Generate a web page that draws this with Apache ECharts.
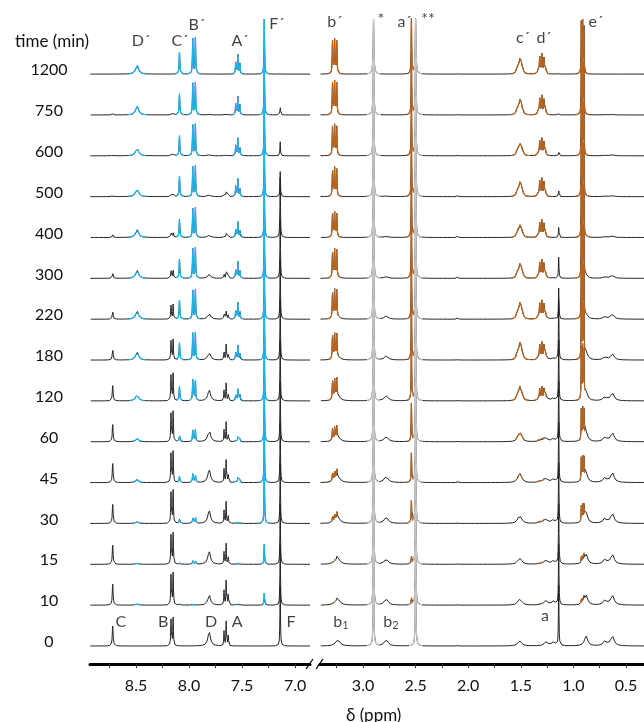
<!DOCTYPE html>
<html>
<head>
<meta charset="utf-8">
<style>
  html, body { margin: 0; padding: 0; background: #fff; }
  #chart { width: 644px; height: 722px; }
</style>
<script src="https://cdn.jsdelivr.net/npm/echarts@6/dist/echarts.min.js"></script>
</head>
<body>
<div id="chart"></div>
<script>
// rows, bottom to top
const times = [0, 10, 15, 30, 45, 60, 120, 180, 220, 300, 400, 500, 600, 750, 1200];
const labelsLeftAxis = [7.0, 7.5, 8.0, 8.5];
const ticksLeftAxis = [7.0, 7.25, 7.5, 7.75, 8.0, 8.25, 8.5, 8.75];
const labelsRightAxis = [0.5, 1.0, 1.5, 2.0, 2.5, 3.0];
const ticksRightAxis = [0.5, 0.75, 1.0, 1.25, 1.5, 1.75, 2.0, 2.25, 2.5, 2.75, 3.0, 3.25];

// aromatic region, starting material (shift ppm, relative line intensity, peak height per row)
const posC = [8.72];
const hC = [21, 22, 20, 20, 20, 18, 16, 12, 8.7, 5.7, 3.3, 2.3, 1.7, 1, 0];
const posB = [8.17, 8.15];
const relB = [0.93, 1];
const hB = [29, 33, 32, 34, 32, 31, 28, 21, 15, 10, 5.7, 4, 2.5, 2, 0];
const posD = [7.81];
const hD = [14, 10, 13, 13, 13, 12, 11, 8, 6, 4, 2.3, 1.7, 1, 0.5, 0];
const posA = [7.67, 7.65, 7.63];
const relA = [0.6, 1, 0.42];
const hA = [25, 25, 21, 22, 23, 20, 18, 16, 10, 8, 4, 4.7, 1.5, 0.5, 0];
const posF = [7.14];
const hF = [60, 60, 60, 60, 60, 60, 60, 60, 60, 60, 60, 25, 14, 9, 1];

// aromatic region, product
const posDp = [8.49];
const hDp = [0, 1, 1, 1.5, 3, 3, 6, 8, 8, 8, 8, 8, 8, 9, 9];
const posCp = [8.09];
const hCp = [0, 1, 2, 4, 6, 7, 14, 17, 19, 19, 18, 20, 20, 21, 22];
const posBp = [7.965, 7.94];
const relBp = [0.97, 1];
const hBp = [0, 1.5, 3.5, 7, 9, 12, 22, 28, 30, 31, 30, 31, 32, 33, 37];
const posAp = [7.56, 7.54, 7.52];
const relAp = [0.6, 1, 0.55];
const hAp = [0, 1, 1.5, 3, 6, 6, 12, 15, 17, 17, 16, 18, 18, 19, 20];
const posFp = [7.29];
const hFp = [0, 12, 20, 60, 60, 60, 60, 60, 60, 60, 60, 60, 60, 60, 55];

// aliphatic region, starting material
const posb1 = [3.24];
const hb1 = [6, 6, 6, 6, 6, 5, 5, 3, 2, 1, 0, 0, 0, 0, 0];
const posb2 = [2.78];
const hb2 = [6, 6, 5, 6, 6, 5, 5, 4, 3, 1.5, 1, 0.5, 0, 0, 0];
const posMinor = [2.10];
const hMinor = [1, 1, 1, 1, 1, 1, 1, 2, 2, 2, 2, 1.5, 1, 0.5, 0.5];
const posc = [1.51];
const hc = [5, 5, 5, 5, 5, 4, 3, 2, 1, 0, 0, 0, 0, 0, 0];
const posd = [1.26, 1.19];
const reld = [1, 0.93];
const hd = [4.3, 4.3, 4, 4, 4, 3.5, 3, 2, 1, 0.5, 0, 0, 0, 0, 0];
const posa = [1.14];
const ha = [60, 60, 60, 60, 60, 60, 60, 60, 31, 21, 10, 7, 4, 2, 1];
const pose = [0.88];
const he = [10, 10, 10, 11, 10, 10, 9, 8, 5, 3, 1, 0.5, 0, 0, 0];
const posg = [0.70, 0.63];
const relg = [0.48, 1];
const hg = [10, 10, 10, 10, 10, 9, 8, 6, 5, 3, 1.5, 1, 1, 0.5, 0];

// aliphatic region, product
const posbp = [3.29, 3.27, 3.25];
const relbp = [0.95, 1, 0.95];
const hbp = [0, 2, 3, 8, 11, 13, 22, 28, 30, 30, 28, 30, 32, 35, 36];
const posap = [2.54];
const hap = [0, 8, 9, 22, 29, 38, 60, 60, 60, 60, 60, 60, 60, 60, 55];
const poscp = [1.54, 1.525, 1.51, 1.495, 1.48];
const relcp = [0.3, 0.75, 1, 0.75, 0.3];
const hcp = [0, 1, 1, 3, 4, 6, 12, 16, 16, 15, 13, 15, 14, 16, 16];
const posdp = [1.335, 1.32, 1.30, 1.28, 1.265];
const reldp = [0.3, 0.85, 1, 0.8, 0.3];
const hdp = [0, 1, 1.5, 3, 3, 4, 14, 18, 19, 19, 18, 19, 18, 20, 21];
const posep = [0.925, 0.912, 0.90];
const relep = [1, 1, 0.9];
const hep = [0, 6, 8, 17, 25, 33, 55, 60, 60, 60, 60, 60, 60, 60, 55];

// solvent signals (* and **)
const posSolv1 = [2.90];
const posSolv2 = [2.50];
const hSolv = [60, 60, 60, 60, 60, 60, 60, 60, 60, 60, 60, 60, 60, 60, 55];

// peak labels: [ppm, height above bottom baseline, text]
const peakLabelsLeft = [
  [8.453, 605, 'D´'], [8.085, 605, 'C´'], [7.925, 621, 'B´'], [7.519, 605, 'A´'], [7.17, 622, 'F´'],
  [8.642, 24, 'C'], [8.245, 24, 'B'], [7.792, 24, 'D'], [7.547, 24, 'A'], [7.038, 24, 'F']
];
const peakLabelsRight = [
  [3.266, 624, 'b´'], [2.829, 627, '*'], [2.605, 624, 'a´'], [2.382, 627, '**'],
  [1.479, 608, 'c´'], [1.279, 608, 'd´'], [0.785, 624, 'e´'],
  [3.209, 24, 'b{s|1}'], [2.734, 24, 'b{s|2}'], [1.27, 30, 'a']
];

const SP = 40.85; // row spacing
const FONT = 'Lato, "Open Sans", sans-serif';
const COLORS = { k: '#222222', b: '#1db3ee', o: '#b8631d', g: '#c4c4c4' };

// grid 0 = aromatic, grid 1 = aliphatic; w = lorentzian half width (ppm)
const groups = [
  { grid: 0, col: 'k', pos: posC, h: hC, w: 0.0045 },
  { grid: 0, col: 'k', pos: posB, rel: relB, h: hB, w: 0.0035 },
  { grid: 0, col: 'k', pos: posD, h: hD, w: 0.015 },
  { grid: 0, col: 'k', pos: posA, rel: relA, h: hA, w: 0.003 },
  { grid: 0, col: 'k', pos: posF, h: hF, w: 0.003 },
  { grid: 0, col: 'b', pos: posDp, h: hDp, w: 0.016 },
  { grid: 0, col: 'b', pos: posCp, h: hCp, w: 0.004 },
  { grid: 0, col: 'b', pos: posBp, rel: relBp, h: hBp, w: 0.0035 },
  { grid: 0, col: 'b', pos: posAp, rel: relAp, h: hAp, w: 0.003 },
  { grid: 0, col: 'b', pos: posFp, h: hFp, w: 0.003 },
  { grid: 1, col: 'k', pos: posb1, h: hb1, w: 0.025 },
  { grid: 1, col: 'k', pos: posb2, h: hb2, w: 0.022 },
  { grid: 1, col: 'k', pos: posMinor, h: hMinor, w: 0.003 },
  { grid: 1, col: 'k', pos: posc, h: hc, w: 0.022 },
  { grid: 1, col: 'k', pos: posd, rel: reld, h: hd, w: 0.02 },
  { grid: 1, col: 'k', pos: posa, h: ha, w: 0.003 },
  { grid: 1, col: 'k', pos: pose, h: he, w: 0.018 },
  { grid: 1, col: 'k', pos: posg, rel: relg, h: hg, w: 0.02 },
  { grid: 1, col: 'o', pos: posbp, rel: relbp, h: hbp, w: 0.0035 },
  { grid: 1, col: 'o', pos: posap, h: hap, w: 0.003 },
  { grid: 1, col: 'o', pos: poscp, rel: relcp, h: hcp, w: 0.007 },
  { grid: 1, col: 'o', pos: posdp, rel: reldp, h: hdp, w: 0.0045 },
  { grid: 1, col: 'o', pos: posep, rel: relep, h: hep, w: 0.0025 },
  { grid: 1, col: 'g', pos: posSolv1, h: hSolv, w: 0.0045 },
  { grid: 1, col: 'g', pos: posSolv2, h: hSolv, w: 0.0045 }
];

const lor = (x, p, w) => (w * w) / ((x - p) * (x - p) + w * w);
const shape = (g, x) => g.pos.reduce((s, p, k) => s + (g.rel ? g.rel[k] : 1) * lor(x, p, g.w), 0);

function buildRegion(gi, lo, hi) {
  const gs = groups.filter((g) => g.grid === gi);
  let xs = [];
  for (let x = lo; x <= hi; x += 0.004) xs.push(x);
  gs.forEach((g) => g.pos.forEach((p) => {
    [-2, -1, -0.5, 0, 0.5, 1, 2].forEach((k) => xs.push(p + k * g.w));
  }));
  xs = xs.filter((x) => x >= lo && x <= hi).sort((a, b) => a - b);
  gs.forEach((g) => { g.norm = Math.max(...g.pos.map((p) => shape(g, p))); });

  const out = { k: [], b: [], o: [], g: [] };
  times.forEach((t, i) => {
    const base = i * SP;
    const tot = [];
    const dom = [];
    xs.forEach((x) => {
      const c = { k: 0, b: 0, o: 0, g: 0 };
      gs.forEach((g) => {
        if (g.h[i]) c[g.col] += (g.h[i] * shape(g, x)) / g.norm;
      });
      let d = 'k';
      let m = 0.3;
      ['b', 'o', 'g'].forEach((key) => {
        if (c[key] > m && c[key] > c.k * 0.8) { d = key; m = c[key]; }
      });
      dom.push(d);
      tot.push(base + c.k + c.b + c.o + c.g);
    });
    xs.forEach((x, j) => {
      out.k.push([x, tot[j]]);
      ['b', 'o', 'g'].forEach((key) => {
        const on = dom[j] === key || dom[j - 1] === key || dom[j + 1] === key;
        out[key].push([x, on ? tot[j] : '-']);
      });
    });
    Object.keys(out).forEach((key) => out[key].push([xs[0], '-']));
  });
  return out;
}

const leftRange = [6.859, 8.934];
const rightRange = [0.329, 3.409];
const left = buildRegion(0, leftRange[0], leftRange[1]);
const right = buildRegion(1, rightRange[0], rightRange[1]);

function lineSeries(gi, key, data) {
  return {
    type: 'line',
    xAxisIndex: gi,
    yAxisIndex: gi,
    data: data,
    showSymbol: false,
    silent: true,
    connectNulls: false,
    z: key === 'k' ? 2 : key === 'g' ? 3 : 4,
    lineStyle: { color: COLORS[key], width: key === 'k' ? 1 : 1.2 }
  };
}

function labelSeries(gi, data) {
  return {
    type: 'scatter',
    xAxisIndex: gi,
    yAxisIndex: gi,
    data: data,
    symbolSize: 0,
    silent: true,
    z: 6,
    label: {
      show: true,
      position: 'inside',
      formatter: (p) => p.data[2],
      fontFamily: FONT,
      fontSize: 16,
      color: '#111',
      rich: { s: { fontFamily: FONT, fontSize: 11, color: '#111', verticalAlign: 'bottom', padding: [6, 0, 0, 0] } }
    }
  };
}

function xAxisOf(gi, range, ticks, labels) {
  return {
    gridIndex: gi,
    type: 'value',
    inverse: true,
    min: range[0],
    max: range[1],
    offset: 8,
    splitLine: { show: false },
    axisLine: { show: true, onZero: false, lineStyle: { color: '#000', width: 3 } },
    axisTick: { show: true, customValues: ticks, length: 4, lineStyle: { color: '#333', width: 1 } },
    axisLabel: {
      customValues: labels,
      formatter: (v) => v.toFixed(1),
      fontFamily: FONT,
      fontSize: 16,
      color: '#111',
      margin: 14
    }
  };
}

const chart = echarts.init(document.getElementById('chart'), null, { renderer: 'canvas' });

chart.setOption({
  animation: false,
  backgroundColor: '#fff',
  title: [
    { text: 'time (min)', left: 10, top: 28, textStyle: { fontFamily: FONT, fontSize: 17, fontWeight: 'normal', color: '#111' } },
    { text: 'δ (ppm)', left: 341, top: 702, textStyle: { fontFamily: FONT, fontSize: 17, fontWeight: 'normal', color: '#111' } }
  ],
  grid: [
    { left: 90, width: 220, top: 0, height: 656 },
    { left: 320, right: 0, top: 0, height: 656 }
  ],
  xAxis: [
    xAxisOf(0, leftRange, ticksLeftAxis, labelsLeftAxis),
    xAxisOf(1, rightRange, ticksRightAxis, labelsRightAxis)
  ],
  yAxis: [
    {
      gridIndex: 0,
      type: 'value',
      min: -10,
      max: 646,
      axisLine: { show: false },
      axisTick: { show: false },
      splitLine: { show: false },
      axisLabel: {
        customValues: times.map((t, i) => i * SP + 4),
        formatter: (v) => String(times[Math.round((v - 4) / SP)]),
        align: 'center',
        margin: 41,
        fontFamily: FONT,
        fontSize: 16,
        color: '#111'
      }
    },
    { gridIndex: 1, type: 'value', min: -10, max: 646, show: false }
  ],
  graphic: [
    { type: 'line', shape: { x1: 306, y1: 669, x2: 313, y2: 659 }, style: { stroke: '#000', lineWidth: 1.3 } },
    { type: 'line', shape: { x1: 316, y1: 669, x2: 323, y2: 659 }, style: { stroke: '#000', lineWidth: 1.3 } }
  ],
  series: [
    lineSeries(0, 'k', left.k),
    lineSeries(0, 'b', left.b),
    lineSeries(1, 'k', right.k),
    lineSeries(1, 'g', right.g),
    lineSeries(1, 'o', right.o),
    labelSeries(0, peakLabelsLeft),
    labelSeries(1, peakLabelsRight)
  ]
});

window.addEventListener('resize', () => chart.resize());
</script>
</body>
</html>
